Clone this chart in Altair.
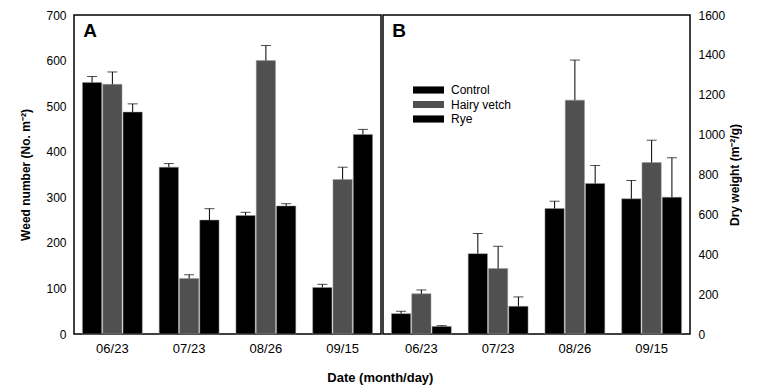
import altair as alt
import pandas as pd

dates = ["06/23", "07/23", "08/26", "09/15"]
treatments = ["Control", "Hairy vetch", "Rye"]

# Panel A: weed number (No. m-2)
weed_control = [552, 366, 260, 102]
weed_vetch = [548, 122, 600, 339]
weed_rye = [487, 250, 281, 438]
weed_control_se = [13, 8, 7, 7]
weed_vetch_se = [27, 8, 33, 27]
weed_rye_se = [18, 25, 5, 11]

# Panel B: dry weight (m-2/g)
dry_control = [102, 403, 629, 678]
dry_vetch = [202, 328, 1173, 860]
dry_rye = [38, 139, 755, 686]
dry_control_se = [12, 101, 37, 92]
dry_vetch_se = [19, 112, 201, 112]
dry_rye_se = [4, 47, 90, 198]

bar_colors = ["#000000", "#505050", "#000000"]
FONT = "Liberation Sans"


def make_df(series, ses):
    rows = []
    for t, vals, errs in zip(treatments, series, ses):
        for d, v, e in zip(dates, vals, errs):
            rows.append({"date": d, "treatment": t, "value": v, "top": v + e})
    return pd.DataFrame(rows)


def panel(df, letter, ymax, ystep, ytitle, orient, legend, tpad):
    x = alt.X("date:N", sort=dates,
              scale=alt.Scale(paddingInner=0.22, paddingOuter=0.11),
              axis=alt.Axis(title=None, labelAngle=0, ticks=False, domain=False,
                            labelPadding=8, labelFontSize=13))
    xo = alt.XOffset("treatment:N", sort=treatments,
                     scale=alt.Scale(paddingInner=0.05))
    yaxis = alt.Axis(title=ytitle, orient=orient,
                     values=list(range(0, ymax + 1, ystep)), format="d",
                     labelOverlap=False,
                     grid=False, ticks=False, domain=False, labelPadding=8,
                     labelFontSize=12, titleFontSize=12, titleFontWeight="bold",
                     titlePadding=tpad, titleAngle=270)
    yscale = alt.Scale(domain=[0, ymax], nice=False)
    y = alt.Y("value:Q", scale=yscale, axis=yaxis)
    ytop = alt.Y("top:Q", scale=yscale, axis=yaxis)
    color = alt.Color("treatment:N", sort=treatments,
                      scale=alt.Scale(domain=treatments, range=bar_colors),
                      legend=legend)
    base = alt.Chart(df)
    bars = base.mark_bar(stroke="#9a9a9a", strokeWidth=0.5).encode(
        x=x, xOffset=xo, y=y, color=color)
    err = base.mark_rule(color="black", strokeWidth=1).encode(
        x=x, xOffset=xo, y=y, y2="top:Q")
    caps = base.mark_tick(color="black", thickness=1, size=10).encode(
        x=x, xOffset=xo, y=ytop)
    lab = alt.Chart(pd.DataFrame({"t": [letter]})).mark_text(
        fontSize=19, fontWeight="bold", font=FONT, color="black",
        align="center", baseline="middle").encode(
        text="t:N", x=alt.value(16), y=alt.value(16))
    return alt.layer(bars, err, caps, lab).properties(width=307, height=319)


legend_b = alt.Legend(title=None, orient="none", legendX=30, legendY=69,
                      symbolType="M-1,-0.23L1,-0.23L1,0.23L-1,0.23Z",
                      symbolSize=961, clipHeight=12, rowPadding=2.5,
                      labelOffset=7, labelFontSize=12, labelFont=FONT,
                      labelColor="black", symbolStrokeWidth=0, symbolOpacity=1)

left = panel(make_df([weed_control, weed_vetch, weed_rye],
                     [weed_control_se, weed_vetch_se, weed_rye_se]),
             "A", 700, 100, "Weed number (No. m⁻²)", "left", None, 13)
right = panel(make_df([dry_control, dry_vetch, dry_rye],
                      [dry_control_se, dry_vetch_se, dry_rye_se]),
              "B", 1600, 200, "Dry weight (m⁻²/g)", "right", legend_b, 17)

chart = alt.hconcat(left, right, spacing=0).resolve_scale(
    color="independent", y="independent", x="independent", xOffset="independent"
).resolve_legend(color="independent").properties(
    title=alt.TitleParams("Date (month/day)", orient="bottom", anchor="middle",
                          fontSize=13, font=FONT, fontWeight="bold",
                          color="black", offset=16),
    padding={"left": 11, "top": 0, "right": 0, "bottom": 0},
).configure_view(stroke="black", strokeWidth=1.5).configure_axis(
    labelFont=FONT, titleFont=FONT, labelColor="black", titleColor="black")

chart.save("out.html", embed_options={"renderer": "svg", "actions": False})
